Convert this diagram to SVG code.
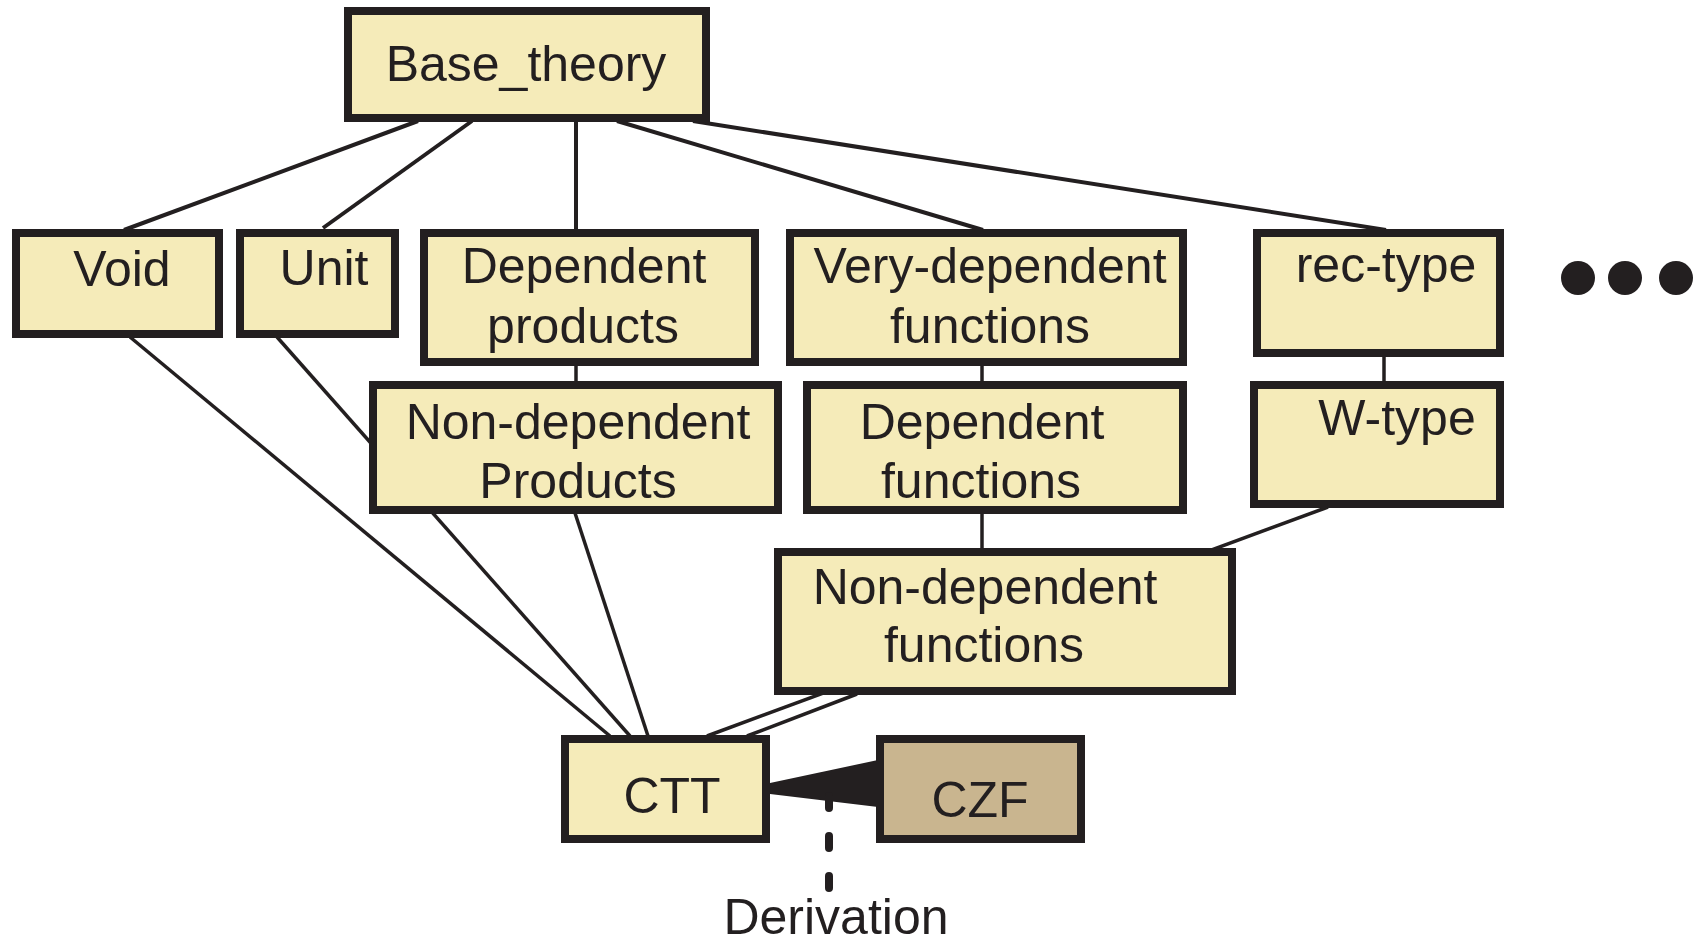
<svg xmlns="http://www.w3.org/2000/svg" width="1698" height="944" viewBox="0 0 1698 944">
<style>
.box{fill:#f5ebb9;stroke:#231f20;stroke-width:8}
.dark{fill:#c9b58f}
.t{font-family:"Liberation Sans",Arial,sans-serif;font-size:50px;fill:#231f20;text-anchor:middle}
.c{stroke:#231f20;stroke-width:3.5;fill:none}
.ct{stroke:#231f20;stroke-width:4;fill:none}
</style>
<rect width="1698" height="944" fill="#ffffff"/>
<g id="connectors">
<line class="ct" x1="418" y1="121" x2="124" y2="230"/>
<line class="ct" x1="472" y1="121" x2="323" y2="228"/>
<line class="ct" x1="576" y1="121" x2="576" y2="230"/>
<line class="ct" x1="617" y1="121" x2="983" y2="230"/>
<line class="ct" x1="693" y1="121" x2="1386" y2="230"/>
<line class="c" x1="576" y1="366" x2="576" y2="382"/>
<line class="c" x1="982" y1="366" x2="982" y2="382"/>
<line class="c" x1="1384" y1="357" x2="1384" y2="382"/>
<line class="c" x1="982" y1="514" x2="982" y2="549"/>
<line class="c" x1="130" y1="337" x2="610" y2="736"/>
<line class="c" x1="277" y1="337" x2="630" y2="736"/>
<line class="c" x1="575" y1="513" x2="648" y2="736"/>
<line class="c" x1="1328" y1="507" x2="707" y2="736"/>
<line class="c" x1="857" y1="694" x2="747" y2="736"/>
<polygon points="770,783 878,760 878,807 770,794" fill="#231f20"/>
</g>
<g id="derivation">
<line x1="829" y1="796" x2="829" y2="888" stroke="#231f20" stroke-width="8" stroke-linecap="round" stroke-dasharray="12 28"/>
<text class="t" x="836" y="934">Derivation</text>
</g>
<g id="node-base">
<rect class="box" x="348" y="11" width="358" height="107"/>
<text class="t" x="526" y="81">Base_theory</text>
</g>
<g id="node-void">
<rect class="box" x="16" y="233" width="203" height="101"/>
<text class="t" x="122" y="286">Void</text>
</g>
<g id="node-unit">
<rect class="box" x="240" y="233" width="155" height="101"/>
<text class="t" x="324" y="285">Unit</text>
</g>
<g id="node-depprod">
<rect class="box" x="424" y="233" width="331" height="129"/>
<text class="t" x="584" y="283">Dependent</text>
<text class="t" x="583" y="343">products</text>
</g>
<g id="node-vdf">
<rect class="box" x="790" y="233" width="393" height="129"/>
<text class="t" x="990" y="283">Very-dependent</text>
<text class="t" x="990" y="343">functions</text>
</g>
<g id="node-rec">
<rect class="box" x="1257" y="233" width="243" height="120"/>
<text class="t" x="1386" y="282">rec-type</text>
</g>
<g id="node-ndp">
<rect class="box" x="373" y="385" width="405" height="125"/>
<text class="t" x="578" y="439">Non-dependent</text>
<text class="t" x="578" y="498">Products</text>
</g>
<g id="node-df">
<rect class="box" x="807" y="385" width="376" height="125"/>
<text class="t" x="982" y="439">Dependent</text>
<text class="t" x="981" y="498">functions</text>
</g>
<g id="node-w">
<rect class="box" x="1254" y="385" width="246" height="119"/>
<text class="t" x="1397" y="435">W-type</text>
</g>
<g id="node-ndf">
<rect class="box" x="778" y="552" width="454" height="139"/>
<text class="t" x="985" y="604">Non-dependent</text>
<text class="t" x="984" y="662">functions</text>
</g>
<g id="node-ctt">
<rect class="box" x="565" y="739" width="201" height="100"/>
<text class="t" x="672" y="813">CTT</text>
</g>
<g id="node-czf">
<rect class="box dark" x="880" y="739" width="201" height="100"/>
<text class="t" x="980" y="817">CZF</text>
</g>
<g id="ellipsis" fill="#231f20">
<circle cx="1578" cy="278" r="17"/>
<circle cx="1625" cy="278" r="17"/>
<circle cx="1676" cy="278" r="17"/>
</g>
</svg>
